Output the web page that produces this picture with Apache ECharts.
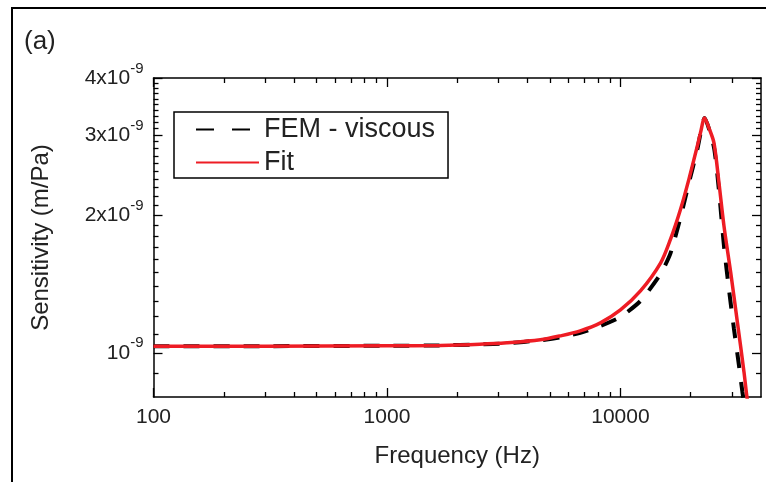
<!DOCTYPE html>
<html>
<head>
<meta charset="utf-8">
<script src="https://cdn.jsdelivr.net/npm/echarts@6/dist/echarts.min.js"></script>
<style>html,body{margin:0;padding:0;background:#fff}#c{width:766px;height:482px}</style>
</head>
<body>
<div id="c"></div>
<script>
// ---- data ----
const femFreq = [100, 300, 1000, 1689, 2500, 3264, 4537, 5526, 6730, 8209, 10000, 12185, 14850, 16390, 18090, 19580, 21340, 22940, 25150, 26420, 27760, 29150, 30640, 32190, 33290, 34200];
const femSens = [1.034e-9, 1.034e-9, 1.036e-9, 1.038e-9, 1.043e-9, 1.049e-9, 1.065e-9, 1.081e-9, 1.106e-9, 1.145e-9, 1.198e-9, 1.299e-9, 1.487e-9, 1.653e-9, 1.982e-9, 2.339e-9, 2.789e-9, 3.27e-9, 2.82e-9, 2.27e-9, 1.715e-9, 1.379e-9, 1.128e-9, 0.938e-9, 0.821e-9, 0.75e-9];
const fitFreq = [100, 300, 1000, 1689, 2500, 3264, 4537, 5526, 6730, 8209, 10000, 12185, 14850, 16390, 18090, 19640, 21340, 22040, 22940, 23930, 25150, 26420, 27760, 29660, 31690, 33820, 34740, 35500];
const fitSens = [1.034e-9, 1.034e-9, 1.036e-9, 1.038e-9, 1.044e-9, 1.0515e-9, 1.0675e-9, 1.089e-9, 1.117e-9, 1.163e-9, 1.241e-9, 1.366e-9, 1.572e-9, 1.774e-9, 2.063e-9, 2.399e-9, 2.836e-9, 3.04e-9, 3.27e-9, 3.11e-9, 2.884e-9, 2.359e-9, 1.897e-9, 1.501e-9, 1.167e-9, 0.908e-9, 0.807e-9, 0.75e-9];
const seriesNames = ['FEM - viscous', 'Fit'];

// ---- axes / ticks ----
const xMin = 100, xMax = 40000;
const yMin = 0.8e-9, yMax = 4e-9;
const xMajorTicks = [100, 1000, 10000];
const xTickLabels = ['100', '1000', '10000'];
const xMinorTicks = [200, 300, 400, 500, 600, 700, 800, 900, 2000, 3000, 4000, 5000, 6000, 7000, 8000, 9000, 20000, 30000];
const yMajorTicks = [1e-9, 2e-9, 3e-9, 4e-9];
const yTickMantissa = ['10', '2x10', '3x10', '4x10'];
const yTickExponent = '-9';
const yMinorTicks = [0.9e-9, 1.1e-9, 1.2e-9, 1.3e-9, 1.4e-9, 1.5e-9, 1.6e-9, 1.7e-9, 1.8e-9, 1.9e-9,
                     2.1e-9, 2.2e-9, 2.3e-9, 2.4e-9, 2.5e-9, 2.6e-9, 2.7e-9, 2.8e-9, 2.9e-9,
                     3.1e-9, 3.2e-9, 3.3e-9, 3.4e-9, 3.5e-9, 3.6e-9, 3.7e-9, 3.8e-9, 3.9e-9];

const FONT = '"Liberation Sans", Arial, Helvetica, sans-serif';
const TXT = '#222';
const AX = {color: '#000', width: 1.5};
const TK = {color: '#000', width: 1.3};

function findIdx(arr, v) {
  for (let i = 0; i < arr.length; i++) if (Math.abs(v / arr[i] - 1) < 1e-6) return i;
  return -1;
}

function xAxisDef(position, ticks, len, showLine, showLabel, extra) {
  return Object.assign({
    type: 'log', logBase: 10, position: position, min: xMin, max: xMax,
    axisLine: {show: showLine, onZero: false, lineStyle: AX},
    axisTick: {show: true, inside: true, length: len, customValues: ticks, lineStyle: TK},
    axisLabel: showLabel ? {
      show: true, customValues: ticks, margin: 10, fontSize: 21, color: TXT, fontFamily: FONT,
      formatter: v => { const i = findIdx(xMajorTicks, v); return i >= 0 ? xTickLabels[i] : ''; }
    } : {show: false},
    splitLine: {show: false}, minorTick: {show: false}, minorSplitLine: {show: false}
  }, extra || {});
}

function yAxisDef(position, ticks, len, showLine, showLabel, extra) {
  return Object.assign({
    type: 'log', logBase: 10, position: position, min: yMin, max: yMax,
    axisLine: {show: showLine, onZero: false, lineStyle: AX},
    axisTick: {show: true, inside: true, length: len, customValues: ticks, lineStyle: TK},
    axisLabel: showLabel ? {
      show: true, customValues: ticks, margin: 10, color: TXT, fontFamily: FONT,
      formatter: v => { const i = findIdx(yMajorTicks, v); return i >= 0 ? '{b|' + yTickMantissa[i] + '}{s|' + yTickExponent + '}' : ''; },
      rich: {
        b: {fontSize: 21, lineHeight: 34, color: TXT, fontFamily: FONT},
        s: {fontSize: 15, lineHeight: 15, verticalAlign: 'top', color: TXT, fontFamily: FONT}
      }
    } : {show: false},
    splitLine: {show: false}, minorTick: {show: false}, minorSplitLine: {show: false}
  }, extra || {});
}

const chart = echarts.init(document.getElementById('c'), null, {renderer: 'canvas'});
chart.setOption({
  animation: false,
  backgroundColor: '#fff',
  title: {text: '(a)', left: 24, top: 29, padding: 0,
          textStyle: {fontSize: 26, fontWeight: 'normal', color: TXT, fontFamily: FONT}},
  graphic: [{type: 'rect', silent: true, shape: {x: 12, y: 8, width: 800, height: 520},
             style: {fill: 'none', stroke: '#000', lineWidth: 2}}],
  grid: {left: 153.5, top: 78, width: 607.5, height: 319, containLabel: false, outerBoundsMode: 'none'},
  legend: {
    left: 174, top: 112, orient: 'vertical',
    padding: [4, 13, 2, 21], itemGap: 6, itemWidth: 63, itemHeight: 14,
    borderColor: '#000', borderWidth: 1.5, borderRadius: 0, backgroundColor: '#fff',
    textStyle: {fontSize: 27, color: TXT, fontFamily: FONT},
    itemStyle: {opacity: 0},
    data: [{name: seriesNames[0], lineStyle: {type: [18, 18]}}, {name: seriesNames[1]}]
  },
  xAxis: [
    xAxisDef('bottom', xMajorTicks, 9, true, true, {
      name: 'Frequency (Hz)', nameLocation: 'middle', nameGap: 47,
      nameTextStyle: {fontSize: 24, color: TXT, fontFamily: FONT}
    }),
    xAxisDef('bottom', xMinorTicks, 5, false, false),
    xAxisDef('top', xMajorTicks, 9, true, false),
    xAxisDef('top', xMinorTicks, 5, false, false)
  ],
  yAxis: [
    yAxisDef('left', yMajorTicks, 9, true, true, {
      name: 'Sensitivity (m/Pa)', nameLocation: 'middle', nameGap: 100, nameRotate: 90,
      nameTextStyle: {fontSize: 24, color: TXT, fontFamily: FONT}
    }),
    yAxisDef('left', yMinorTicks, 5, false, false),
    yAxisDef('right', yMajorTicks, 9, true, false),
    yAxisDef('right', yMinorTicks, 5, false, false)
  ],
  series: [
    {
      name: seriesNames[0], type: 'line', xAxisIndex: 0, yAxisIndex: 0,
      data: femFreq.map((f, i) => [f, femSens[i]]),
      symbol: 'none', showSymbol: false, clip: true, z: 2, smooth: 0.2,
      lineStyle: {color: '#000', width: 4, type: [16, 14]},
      itemStyle: {color: '#000'}
    },
    {
      name: seriesNames[1], type: 'line', xAxisIndex: 0, yAxisIndex: 0,
      data: fitFreq.map((f, i) => [f, fitSens[i]]),
      symbol: 'none', showSymbol: false, clip: true, z: 3, smooth: 0.3,
      lineStyle: {color: '#ee1c24', width: 3.5},
      itemStyle: {color: '#ee1c24'}
    }
  ]
});
</script>
</body>
</html>
